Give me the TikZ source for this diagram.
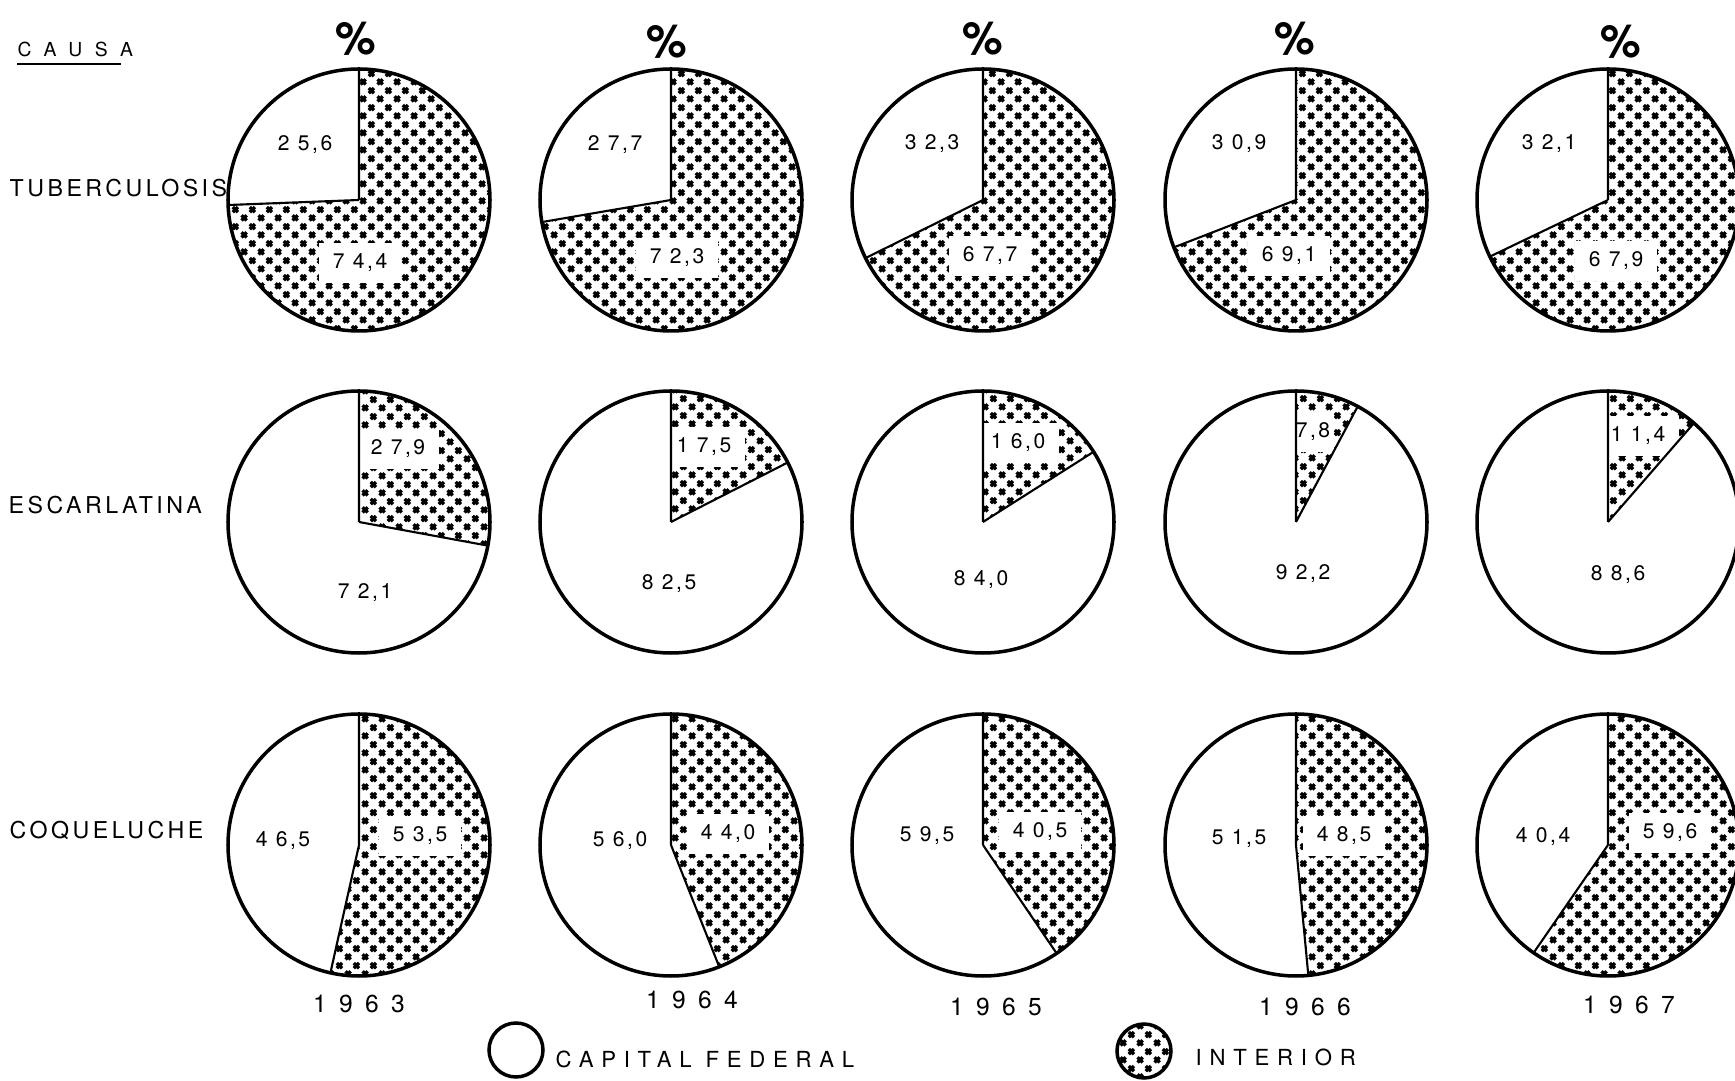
\documentclass[tikz,border=0pt]{standalone}
\usepackage{fontspec}
\setmainfont{TeX Gyre Heros}
\newfontfamily\numfont[LetterSpace=12]{TeX Gyre Heros}
\newfontfamily\causefont[LetterSpace=15]{TeX Gyre Heros}
\newfontfamily\yearfont[LetterSpace=50]{TeX Gyre Heros}
\newfontfamily\keyfont[LetterSpace=35]{TeX Gyre Heros}
\newfontfamily\headfont[LetterSpace=65]{TeX Gyre Heros}
\usetikzlibrary{patterns}

\pgfdeclarepatternformonly{xmarks}{\pgfqpoint{0pt}{0pt}}{\pgfqpoint{4.9pt}{4.9pt}}{\pgfqpoint{4.9pt}{4.9pt}}{
	\pgfsetlinewidth{1pt}
	\pgfpathmoveto{\pgfqpoint{0.45pt}{0.45pt}}\pgfpathlineto{\pgfqpoint{2pt}{2pt}}
	\pgfpathmoveto{\pgfqpoint{0.45pt}{2pt}}\pgfpathlineto{\pgfqpoint{2pt}{0.45pt}}
	\pgfpathmoveto{\pgfqpoint{2.9pt}{2.9pt}}\pgfpathlineto{\pgfqpoint{4.45pt}{4.45pt}}
	\pgfpathmoveto{\pgfqpoint{2.9pt}{4.45pt}}\pgfpathlineto{\pgfqpoint{4.45pt}{2.9pt}}
	\pgfusepath{stroke}
}

\begin{document}
\begin{tikzpicture}[x=0.1mm,y=0.1mm,radius=13.1mm,
	interior/.style={pattern=xmarks},
	rim/.style={line width=1pt},
	cut/.style={line width=0.6pt},
	num/.style={font=\numfont\fontsize{6}{7}\selectfont,inner sep=1pt},
	box/.style={fill=white,inner xsep=4pt,inner ysep=3pt},
	cause/.style={anchor=west,font=\causefont\fontsize{6.6}{7}\selectfont,inner sep=0pt},
	pct/.style={font=\bfseries\fontsize{13}{14}\selectfont},
	year/.style={font=\yearfont\fontsize{7}{8}\selectfont},
	key/.style={anchor=west,font=\keyfont\fontsize{6.3}{7}\selectfont,inner sep=0pt}]
	
		\fill[white] (0,0) rectangle (1735,1081);
		\clip (0,0) rectangle (1735,1081);
		
		\node[anchor=west,font=\headfont\fontsize{5.5}{6}\selectfont,inner sep=0pt] (causa) at (17,1032) {CAUSA};
		\draw[line width=0.6pt] ([yshift=-2pt]causa.south west) -- ([yshift=-2pt,xshift=-3.5pt]causa.south east);
		
		\node[cause] (tbc) at (9,893) {TUBERCULOSIS};
		\node[cause] (esc) at (8,576) {ESCARLATINA};
		\node[cause] (coq) at (9,251) {COQUELUCHE};
		
		\node[pct] (pct1) at (356,1042) {\%};
		\node[pct] (pct2) at (667,1039) {\%};
		\node[pct] (pct3) at (983,1042) {\%};
		\node[pct] (pct4) at (1295,1042) {\%};
		\node[pct] (pct5) at (1621,1039) {\%};
		
		\coordinate (tb1) at (359,881);
		\coordinate (tb2) at (671,881);
		\coordinate (tb3) at (983,881);
		\coordinate (tb4) at (1296,881);
		\coordinate (tb5) at (1608,881);
		\coordinate (es1) at (359,559);
		\coordinate (es2) at (671,559);
		\coordinate (es3) at (983,559);
		\coordinate (es4) at (1296,559);
		\coordinate (es5) at (1608,559);
		\coordinate (co1) at (359,236);
		\coordinate (co2) at (671,236);
		\coordinate (co3) at (983,236);
		\coordinate (co4) at (1296,236);
		\coordinate (co5) at (1608,236);
		
		\fill[interior] (tb1) -- +(182.2:131) arc[start angle=182.2,end angle=450] -- cycle;
		\fill[interior] (tb2) -- +(189.7:131) arc[start angle=189.7,end angle=450] -- cycle;
		\fill[interior] (tb3) -- +(206.3:131) arc[start angle=206.3,end angle=450] -- cycle;
		\fill[interior] (tb4) -- +(201.2:131) arc[start angle=201.2,end angle=450] -- cycle;
		\fill[interior] (tb5) -- +(205.6:131) arc[start angle=205.6,end angle=450] -- cycle;
		
		\fill[interior] (es1) -- +(90:131) arc[start angle=90,end angle=-10.4] -- cycle;
		\fill[interior] (es2) -- +(90:131) arc[start angle=90,end angle=27.0] -- cycle;
		\fill[interior] (es3) -- +(90:131) arc[start angle=90,end angle=32.4] -- cycle;
		\fill[interior] (es4) -- +(90:131) arc[start angle=90,end angle=61.9] -- cycle;
		\fill[interior] (es5) -- +(90:131) arc[start angle=90,end angle=49.0] -- cycle;
		
		\fill[interior] (co1) -- +(90:131) arc[start angle=90,end angle=-102.6] -- cycle;
		\fill[interior] (co2) -- +(90:131) arc[start angle=90,end angle=-68.4] -- cycle;
		\fill[interior] (co3) -- +(90:131) arc[start angle=90,end angle=-55.8] -- cycle;
		\fill[interior] (co4) -- +(90:131) arc[start angle=90,end angle=-84.6] -- cycle;
		\fill[interior] (co5) -- +(90:131) arc[start angle=90,end angle=-124.6] -- cycle;
		
		\node[num] (tb1c) at (305,936) {2 5,6};
		\node[num,box] (tb1i) at (360,818) {7 4,4};
		\node[num] (tb2c) at (615,936) {2 7,7};
		\node[num,box] (tb2i) at (677,823) {7 2,3};
		\node[num] (tb3c) at (932,937) {3 2,3};
		\node[num,box] (tb3i) at (990,825) {6 7,7};
		\node[num] (tb4c) at (1239,937) {3 0,9};
		\node[num,box] (tb4i) at (1289,825) {6 9,1};
		\node[num] (tb5c) at (1549,937) {3 2,1};
		\node[num,box] (tb5i) at (1616,820) {6 7,9};
		
		\node[num,box] (es1i) at (398,632) {2 7,9};
		\node[num] (es1c) at (365,488) {7 2,1};
		\node[num,box] (es2i) at (704,634) {1 7,5};
		\node[num] (es2c) at (669,497) {8 2,5};
		\node[num,box] (es3i) at (1018,638) {1 6,0};
		\node[num] (es3c) at (981,501) {8 4,0};
		\node[num,box,inner xsep=1pt] (es4i) at (1313,649) {7,8};
		\node[num] (es4c) at (1303,507) {9 2,2};
		\node[num,box] (es5i) at (1638,645) {1 1,4};
		\node[num] (es5c) at (1618,506) {8 8,6};
		
		\node[num] (co1c) at (283,240) {4 6,5};
		\node[num,box] (co1i) at (420,245) {5 3,5};
		\node[num] (co2c) at (620,240) {5 6,0};
		\node[num,box] (co2i) at (728,247) {4 4,0};
		\node[num] (co3c) at (927,245) {5 9,5};
		\node[num,box] (co3i) at (1040,249) {4 0,5};
		\node[num] (co4c) at (1239,242) {5 1,5};
		\node[num,box] (co4i) at (1344,245) {4 8,5};
		\node[num] (co5c) at (1543,244) {4 0,4};
		\node[num,box] (co5i) at (1670,248) {5 9,6};
		
		\draw[cut] (tb1) -- +(90:131) (tb1) -- +(182.2:131);
		\draw[cut] (tb2) -- +(90:131) (tb2) -- +(189.7:131);
		\draw[cut] (tb3) -- +(90:131) (tb3) -- +(206.3:131);
		\draw[cut] (tb4) -- +(90:131) (tb4) -- +(201.2:131);
		\draw[cut] (tb5) -- +(90:131) (tb5) -- +(205.6:131);
		\draw[cut] (es1) -- +(90:131) (es1) -- +(-10.4:131);
		\draw[cut] (es2) -- +(90:131) (es2) -- +(27.0:131);
		\draw[cut] (es3) -- +(90:131) (es3) -- +(32.4:131);
		\draw[cut] (es4) -- +(90:131) (es4) -- +(61.9:131);
		\draw[cut] (es5) -- +(90:131) (es5) -- +(49.0:131);
		\draw[cut] (co1) -- +(90:131) (co1) -- +(-102.6:131);
		\draw[cut] (co2) -- +(90:131) (co2) -- +(-68.4:131);
		\draw[cut] (co3) -- +(90:131) (co3) -- +(-55.8:131);
		\draw[cut] (co4) -- +(90:131) (co4) -- +(-84.6:131);
		\draw[cut] (co5) -- +(90:131) (co5) -- +(-124.6:131);
		
		\draw[rim] (tb1) circle[radius=13.1mm] (tb2) circle[radius=13.1mm] (tb3) circle[radius=13.1mm] (tb4) circle[radius=13.1mm] (tb5) circle[radius=13.1mm];
		\draw[rim] (es1) circle[radius=13.1mm] (es2) circle[radius=13.1mm] (es3) circle[radius=13.1mm] (es4) circle[radius=13.1mm] (es5) circle[radius=13.1mm];
		\draw[rim] (co1) circle[radius=13.1mm] (co2) circle[radius=13.1mm] (co3) circle[radius=13.1mm] (co4) circle[radius=13.1mm] (co5) circle[radius=13.1mm];
		
		\node[year] (y63) at (359,77) {1963};
		\node[year] (y64) at (692,81) {1964};
		\node[year] (y65) at (996,74) {1965};
		\node[year] (y66) at (1305,74) {1966};
		\node[year] (y67) at (1629,76) {1967};
		
		\coordinate (capkey) at (516,31);
		\coordinate (intkey) at (1144,30);
		\draw[rim] (capkey) circle[radius=2.7mm];
		\draw[rim,interior] (intkey) circle[radius=2.7mm];
		\node[key] (captxt) at (555,22) {CAPITAL FEDERAL};
		\node[key] (inttxt) at (1195,24) {INTERIOR};
	\end{tikzpicture}
\end{document}
